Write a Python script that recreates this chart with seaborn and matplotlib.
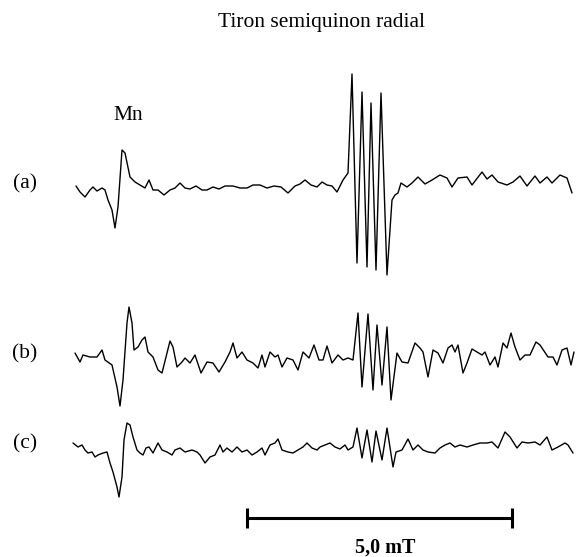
#espectros de EPR: Mn + radical semiquinona do Tiron

import numpy as np
import pandas as pd
import matplotlib
matplotlib.use('Agg')
import matplotlib.pyplot as plt
import seaborn as sns

# posição (canais) e intensidade relativa à linha de base
pos_a = [76, 80, 85, 90, 93, 97, 102, 105, 108, 112, 115, 118, 122, 125, 130, 135, 140, 145, 149, 153,
         158, 164, 170, 175, 180, 185, 190, 196, 202, 207, 213, 219, 225, 233, 240, 247, 253, 260, 267, 274,
         281, 288, 295, 300, 305, 311, 317, 322, 327, 332, 337, 343, 348, 352, 357, 362, 367, 371, 376, 381,
         387, 392, 395, 398, 401, 407, 412, 418, 425, 432, 440, 447, 452, 458, 467, 472, 482, 487, 492, 498,
         507, 513, 520, 527, 535, 540, 547, 552, 560, 567, 572]
int_a = [1, -5, -10, -3, 0, -4, -1, -3, -13, -23, -41, -20, 37, 34, 10, 5, 2, -1, 7, -3,
         -3, -8, -3, -1, 4, -1, -2, 1, -3, -3, 0, -2, 1, 1, -1, -1, 2, 2, -1, 1,
         0, -6, 1, 3, 7, 2, 0, 5, 2, 1, -5, 7, 14, 113, -76, 95, -80, 84, -83, 94,
         -88, -13, -8, -6, 4, 0, 4, 10, 3, 7, 12, 9, 0, 9, 10, 2, 15, 8, 12, 5,
         2, 5, 11, 1, 11, 4, 10, 4, 12, 9, -6]

pos_b = [75, 80, 83, 90, 97, 102, 105, 112, 117, 120, 123, 127, 129, 132, 134, 138, 142, 145, 148, 153,
         158, 162, 167, 170, 173, 177, 182, 185, 190, 195, 201, 207, 213, 219, 225, 230, 233, 237, 242, 247,
         253, 258, 262, 265, 270, 275, 278, 282, 287, 293, 298, 303, 309, 314, 319, 323, 327, 332, 338, 343,
         348, 353, 358, 362, 368, 373, 377, 382, 387, 391, 397, 402, 408, 415, 420, 423, 428, 433, 438, 443,
         448, 452, 455, 458, 463, 467, 472, 477, 482, 485, 490, 495, 498, 503, 507, 511, 515, 520, 525, 530,
         536, 540, 548, 553, 557, 562, 567, 571, 574]
int_b = [4, -5, 2, 0, 0, 7, -3, -8, -30, -49, -23, 34, 50, 34, 7, 10, 17, 20, 5, 0,
         -13, -16, 4, 16, 10, -10, -5, -1, -6, 2, -16, -5, -6, -15, -5, 5, 14, -1, 5, -3,
         -6, -11, 2, -10, 5, 0, 2, -10, -1, -3, -13, 5, -1, 12, -3, -3, 11, -6, 2, -3,
         -1, -3, 44, -30, 43, -33, 32, -28, 30, -43, 4, -5, -6, 14, 9, 5, -20, 7, 4, -6,
         9, 12, 5, 12, -16, -6, 8, 5, 2, 5, -8, 0, -10, 14, 9, 24, 10, -3, 2, 2,
         15, 12, 0, 0, -8, 7, 9, -8, 5]

pos_c = [73, 78, 82, 85, 88, 92, 95, 98, 103, 107, 110, 113, 117, 119, 122, 124, 127, 130, 133, 137,
         140, 143, 146, 149, 153, 158, 162, 167, 172, 175, 180, 185, 192, 197, 200, 205, 210, 215, 220, 223,
         227, 232, 237, 242, 247, 252, 257, 262, 265, 270, 275, 278, 282, 288, 293, 298, 303, 307, 312, 317,
         320, 325, 330, 335, 340, 345, 348, 353, 357, 362, 367, 372, 376, 382, 387, 393, 396, 402, 408, 413,
         418, 423, 428, 435, 440, 445, 450, 455, 460, 467, 473, 480, 487, 492, 498, 505, 510, 517, 522, 528,
         535, 540, 547, 552, 558, 565, 568, 573]
int_c = [4, 0, 2, -3, -6, -5, -10, -8, -6, -5, -16, -25, -40, -50, -30, 7, 24, 22, 10, -3,
         -6, -8, -1, 0, -6, 4, -3, -5, -8, -3, -1, -5, -3, -5, -8, -16, -10, -8, 2, -5,
         -1, -5, 0, -5, -3, -8, -5, -1, -8, 2, 4, 8, -3, -5, -6, -3, 0, 4, -1, -3,
         0, 2, 4, 0, -2, 2, -3, 0, 19, -11, 17, -15, 16, -13, 19, -20, -5, -3, 8, -3,
         2, -3, -5, -6, -1, 2, 4, 0, 2, 0, 2, 4, 4, 5, -1, 15, 10, -1, 5, 4,
         5, 2, 10, -3, 0, 4, 2, -6]

labels = ['(a)', '(b)', '(c)']
traces = [(pos_a, int_a), (pos_b, int_b), (pos_c, int_c)]
offsets = [-187, -357, -447]

mT_por_canal = 5.0 / 265   # barra de 5,0 mT
canal0 = 76

sns.set_theme(style='white')
plt.rcParams['font.family'] = ['Liberation Serif', 'DejaVu Serif']
plt.rcParams['text.color'] = 'black'

fig = plt.figure(figsize=(5.77, 5.57), dpi=100)
ax = fig.add_axes([0, 0, 1, 1])

for (pos, inten), off in zip(traces, offsets):
    df = pd.DataFrame({'campo': (np.array(pos) - canal0) * mT_por_canal,
                       'sinal': np.array(inten) + off})
    sns.lineplot(data=df, x='campo', y='sinal', ax=ax, color='black', lw=1.0,
                 estimator=None, sort=False)

# rótulos das curvas
xl = (25 - canal0) * mT_por_canal
for lab, off in zip(labels, offsets):
    ax.text(xl, off + 3, lab, fontsize=15.5, ha='center', va='center')

ax.text((128 - canal0) * mT_por_canal, -116, 'Mn', fontsize=15.5, ha='center', va='center')
ax.text((321 - canal0) * mT_por_canal, -23, 'Tiron semiquinon radial', fontsize=15.5,
        ha='center', va='center')

# barra de escala 5,0 mT
x0 = (247 - canal0) * mT_por_canal
ax.plot([x0, x0 + 5.0], [-518, -518], color='black', lw=2.2,
        marker='|', markersize=14, markeredgewidth=2.2)
ax.text(x0 + 2.6, -548, '5,0 mT', fontsize=14.5, fontweight='bold', ha='center', va='center')

ax.set_xlim(-canal0 * mT_por_canal, (577 - canal0) * mT_por_canal)
ax.set_ylim(-557, 0)
ax.axis('off')

plt.savefig('out.png', dpi=100)
